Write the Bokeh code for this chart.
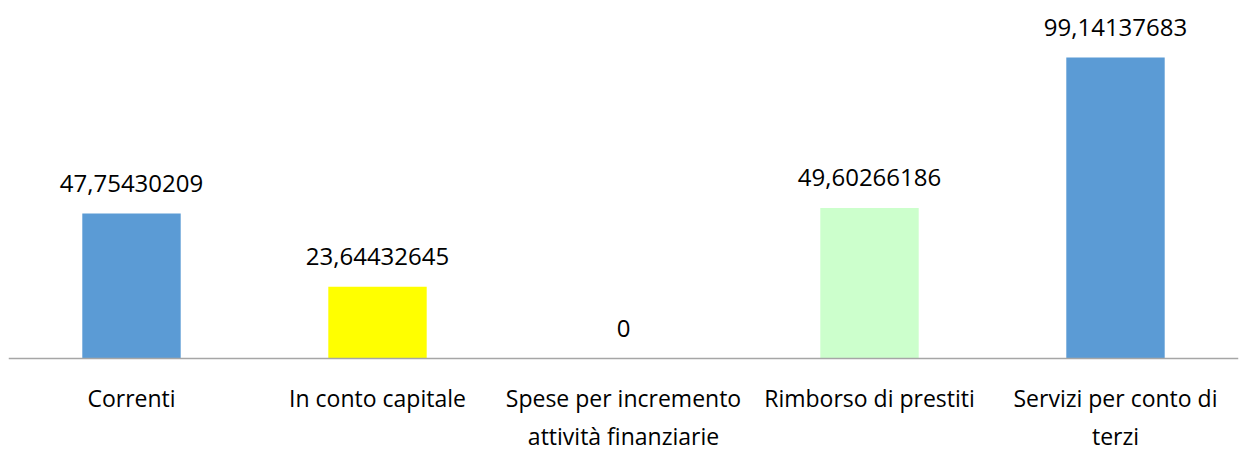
from bokeh.plotting import figure
from bokeh.models import ColumnDataSource, Span, FactorRange, Range1d
from bokeh.core.properties import value
from bokeh.embed import file_html
from bokeh.resources import INLINE

categories = ["Correnti", "In conto capitale", "Spese per incremento\nattività finanziarie",
              "Rimborso di prestiti", "Servizi per conto di\nterzi"]
values = [47.75430209, 23.64432645, 0, 49.60266186, 99.14137683]
value_labels = ["47,75430209", "23,64432645", "0", "49,60266186", "99,14137683"]
colors = ["#5B9BD5", "#FFFF00", "#FFFFFF", "#CCFFCC", "#5B9BD5"]

keys = ["c%d" % i for i in range(len(categories))]
src = ColumnDataSource(dict(x=keys, top=values, lab=value_labels, cat=categories, color=colors))

p = figure(width=1240, height=450, output_backend="svg", toolbar_location=None,
           x_range=FactorRange(*keys, range_padding=0), y_range=Range1d(-30.3, 117.9),
           min_border=0, min_border_left=8, min_border_right=2)
p.axis.visible = False
p.grid.visible = False
p.outline_line_color = None

p.vbar(x="x", top="top", bottom=0, width=0.4, color="color", source=src, line_color=None)
p.add_layout(Span(location=0, dimension="width", line_color="#A6A6A6", line_width=1.5))

font = value("Open Sans")
p.text(x="x", y="top", text="lab", source=src, text_font=font, text_font_size="24px",
       text_align="center", text_baseline="middle", y_offset=-30, text_color="#000000")
p.text(x="x", y=0, text="cat", source=src, text_font=font, text_font_size="23px",
       text_align="center", text_baseline="top", y_offset=24, text_color="#000000",
       text_line_height=1.18)

open("out.html", "w").write(file_html(p, INLINE))
